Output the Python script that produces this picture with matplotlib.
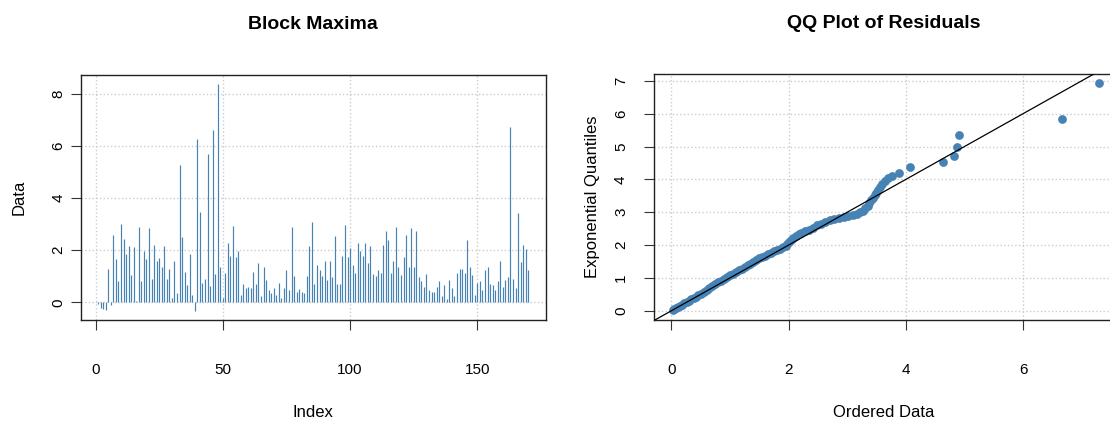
import matplotlib

matplotlib.use("Agg")
import matplotlib.pyplot as plt
import numpy as np

plt.rcParams["font.family"] = ["Liberation Sans Narrow", "Liberation Sans", "DejaVu Sans"]

# block maxima, index 1..170
block_maxima = [
    -0.05, -0.22, -0.25, -0.30, 1.27, -0.10, 2.58, 1.65, 0.80, 3.00,
    2.43, 1.85, 2.16, 1.05, 2.11, 0.06, 2.89, 0.80, 1.97, 1.65,
    2.84, 0.90, 2.21, 1.59, 1.69, 1.37, 2.16, 0.90, 1.27, 0.17,
    1.59, 0.34, 5.25, 2.52, 1.17, 0.65, 1.85, 0.29, -0.34, 6.25,
    3.47, 0.74, 0.90, 5.67, 0.64, 6.62, 1.08, 8.37, 1.37, 0.17,
    1.12, 2.26, 1.79, 2.94, 1.74, 1.95, 0.29, 0.70, 0.55, 0.60,
    0.55, 1.16, 0.70, 1.49, 0.23, 1.34, 0.85, 0.48, 0.34, 0.55,
    0.29, 0.74, 0.17, 0.55, 1.22, 0.48, 2.90, 1.00, 0.38, 0.51,
    0.39, 0.34, 1.02, 2.16, 3.09, 0.70, 1.44, 1.22, 1.02, 1.59,
    0.85, 1.59, 0.97, 2.53, 0.70, 0.70, 1.79, 2.95, 1.74, 2.10,
    1.44, 1.12, 2.26, 1.95, 1.79, 2.26, 1.49, 2.16, 1.08, 1.02,
    1.22, 1.12, 2.21, 2.75, 2.38, 1.12, 1.59, 2.90, 1.37, 1.06,
    1.74, 2.58, 1.37, 2.84, 1.37, 2.75, 0.97, 0.80, 0.60, 1.08,
    0.48, 0.39, 0.39, 0.60, 0.80, 0.23, 0.65, 0.13, 0.85, 0.55,
    0.23, 1.12, 1.27, 1.27, 1.12, 2.38, 1.34, 1.06, 0.29, 0.74,
    0.80, 0.48, 1.22, 1.34, 0.70, 0.65, 0.48, 0.80, 1.59, 0.60,
    0.85, 0.97, 6.72, 0.90, 0.55, 3.43, 1.54, 2.21, 2.05, 1.22,
]

# QQ plot: ordered residuals vs exponential quantiles
ordered_data = [
    0.02, 0.05, 0.08, 0.11, 0.14, 0.18, 0.22, 0.26, 0.30, 0.34,
    0.38, 0.42, 0.46, 0.50, 0.55, 0.60, 0.65, 0.70, 0.75, 0.80,
    0.85, 0.90, 0.95, 1.00, 1.05, 1.10, 1.15, 1.20, 1.25, 1.30,
    1.35, 1.40, 1.45, 1.50, 1.55, 1.60, 1.65, 1.70, 1.75, 1.80,
    1.85, 1.90, 1.95, 1.97, 2.00, 2.04, 2.08, 2.12, 2.17, 2.22,
    2.28, 2.35, 2.42, 2.48, 2.55, 2.62, 2.70, 2.78, 2.86, 2.94,
    3.02, 3.10, 3.16, 3.22, 3.27, 3.31, 3.35, 3.38, 3.41, 3.44,
    3.47, 3.50, 3.53, 3.56, 3.60, 3.64, 3.70, 3.76, 3.88, 4.08,
    4.63, 4.83, 4.87, 4.91, 6.66, 7.30,
]
exp_quantiles = [
    0.01, 0.05, 0.09, 0.12, 0.16, 0.19, 0.24, 0.27, 0.31, 0.36,
    0.40, 0.43, 0.48, 0.52, 0.57, 0.63, 0.68, 0.75, 0.81, 0.87,
    0.92, 0.98, 1.03, 1.08, 1.13, 1.18, 1.23, 1.28, 1.33, 1.38,
    1.42, 1.48, 1.54, 1.60, 1.64, 1.68, 1.73, 1.77, 1.81, 1.85,
    1.89, 1.93, 1.97, 2.02, 2.08, 2.15, 2.22, 2.28, 2.33, 2.37,
    2.42, 2.47, 2.53, 2.60, 2.65, 2.70, 2.76, 2.80, 2.84, 2.86,
    2.88, 2.92, 2.95, 3.00, 3.05, 3.12, 3.20, 3.28, 3.36, 3.44,
    3.52, 3.60, 3.68, 3.76, 3.85, 3.95, 4.04, 4.11, 4.21, 4.39,
    4.54, 4.70, 4.98, 5.34, 5.83, 6.93,
]

BLUE = "#4682B4"
AXIS_FONT = ["Liberation Sans", "DejaVu Sans"]


def style_axes(ax):
    for s in ax.spines.values():
        s.set_linewidth(1.0)
        s.set_color("#222222")
    ax.grid(True, color="#cccccc", linestyle=":", linewidth=1.0)
    ax.set_axisbelow(True)
    ax.tick_params(axis="both", direction="out", length=7, width=0.8,
                   colors="#333333", labelcolor="black", labelsize=11)
    for lab in ax.get_yticklabels():
        lab.set_rotation(90)
        lab.set_va("center")
        lab.set_family(AXIS_FONT)


def plot_block_maxima(ax):
    idx = np.arange(1, len(block_maxima) + 1)
    ax.vlines(idx, 0, block_maxima, color=BLUE, linewidth=0.85)
    ax.set_xlim(-5.8, 176.8)
    ax.set_ylim(-0.68, 8.72)
    ax.set_xticks([0, 50, 100, 150])
    ax.set_yticks([0, 2, 4, 6, 8])
    style_axes(ax)
    ax.tick_params(axis="x", pad=24)
    ax.tick_params(axis="y", pad=4)
    ax.set_title("Block Maxima", fontsize=14, fontweight="bold", pad=33)
    ax.set_xlabel("Index", fontsize=12, labelpad=20)
    ax.set_ylabel("Data", fontsize=12, labelpad=18, family=AXIS_FONT)


def plot_qq(ax):
    ax.plot(ordered_data, exp_quantiles, "o", color=BLUE, markersize=6.3,
            markeredgewidth=0, zorder=2)
    ax.axline((0, 0), slope=1, color="black", linewidth=0.9, zorder=3)
    ax.set_xlim(-0.29, 7.55)
    ax.set_ylim(-0.28, 7.2)
    ax.set_xticks([0, 2, 4, 6])
    ax.set_yticks(range(8))
    style_axes(ax)
    ax.tick_params(axis="x", pad=24)
    ax.tick_params(axis="y", pad=12)
    ax.set_title("QQ Plot of Residuals", fontsize=14, fontweight="bold", pad=33)
    ax.set_xlabel("Ordered Data", fontsize=12, labelpad=20)
    ax.set_ylabel("Exponential Quantiles", fontsize=12, labelpad=10,
                  family=AXIS_FONT)


def main():
    fig = plt.figure(figsize=(11.1, 4.24), dpi=100)
    ax1 = fig.add_axes([0.0728, 0.2453, 0.4187, 0.5778])
    ax2 = fig.add_axes([0.5895, 0.2453, 0.414, 0.5795])
    plot_block_maxima(ax1)
    plot_qq(ax2)
    fig.savefig("out.png", dpi=100)


if __name__ == "__main__":
    main()
